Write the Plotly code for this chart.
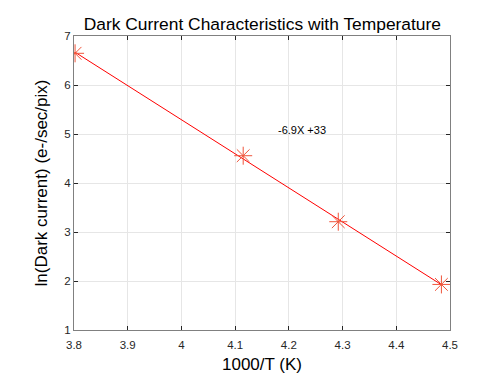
import numpy as np
import plotly.graph_objects as go

inv_temp = [3.802, 4.115, 4.292, 4.484]
ln_dark = [6.647, 4.557, 3.21, 1.93]
x_ticks = [3.8, 3.9, 4.0, 4.1, 4.2, 4.3, 4.4, 4.5]
x_tick_labels = ["3.8", "3.9", "4", "4.1", "4.2", "4.3", "4.4", "4.5"]
y_ticks = [1, 2, 3, 4, 5, 6, 7]
fit_label = "-6.9X +33"

slope, intercept = np.polyfit(inv_temp, ln_dark, 1)
fit_y = [slope * v + intercept for v in inv_temp]

FONT = "Liberation Sans, Arial, Helvetica"

fig = go.Figure()
fig.add_trace(go.Scatter(x=inv_temp, y=fit_y, mode="lines",
                         line=dict(color="#ff0000", width=1), hoverinfo="skip"))
fig.add_trace(go.Scatter(x=inv_temp, y=ln_dark, mode="markers",
                         marker=dict(symbol="asterisk-open", size=15,
                                     line=dict(color="#ff0000", width=1))))

fig.add_annotation(x=4.176, y=5.08, text=fit_label, showarrow=False,
                   xanchor="left", yanchor="middle",
                   font=dict(family=FONT, size=11, color="#000000"))

axis_common = dict(showgrid=True, gridcolor="#e6e6e6", gridwidth=1,
                   showline=True, linecolor="#808080", linewidth=1, mirror="ticks",
                   ticks="inside", ticklen=4, tickcolor="#262626",
                   tickfont=dict(family=FONT, size=11.5, color="#262626"),
                   zeroline=False)

# page body has an 8px default margin, so size the figure to the visible area
fig.update_layout(
    width=493, height=374,
    margin=dict(l=66, r=51, t=28, b=52),
    paper_bgcolor="white", plot_bgcolor="white",
    showlegend=False,
    title=dict(text="Dark Current Characteristics with Temperature",
               x=0.516, xanchor="center", y=1 - 16 / 374, yanchor="middle",
               font=dict(family=FONT, size=17.4, color="#000000")),
    xaxis=dict(range=[3.8, 4.5], tickvals=x_ticks, ticktext=x_tick_labels,
               ticklabelstandoff=4,
               title=dict(text="1000/T (K)", standoff=8,
                          font=dict(family=FONT, size=17, color="#000000")),
               **axis_common),
    yaxis=dict(range=[1, 7], tickvals=y_ticks,
               title=dict(text="ln(Dark current) (e-/sec/pix)", standoff=12,
                          font=dict(family=FONT, size=17, color="#000000")),
               **axis_common),
)

fig.write_html("out.html")
